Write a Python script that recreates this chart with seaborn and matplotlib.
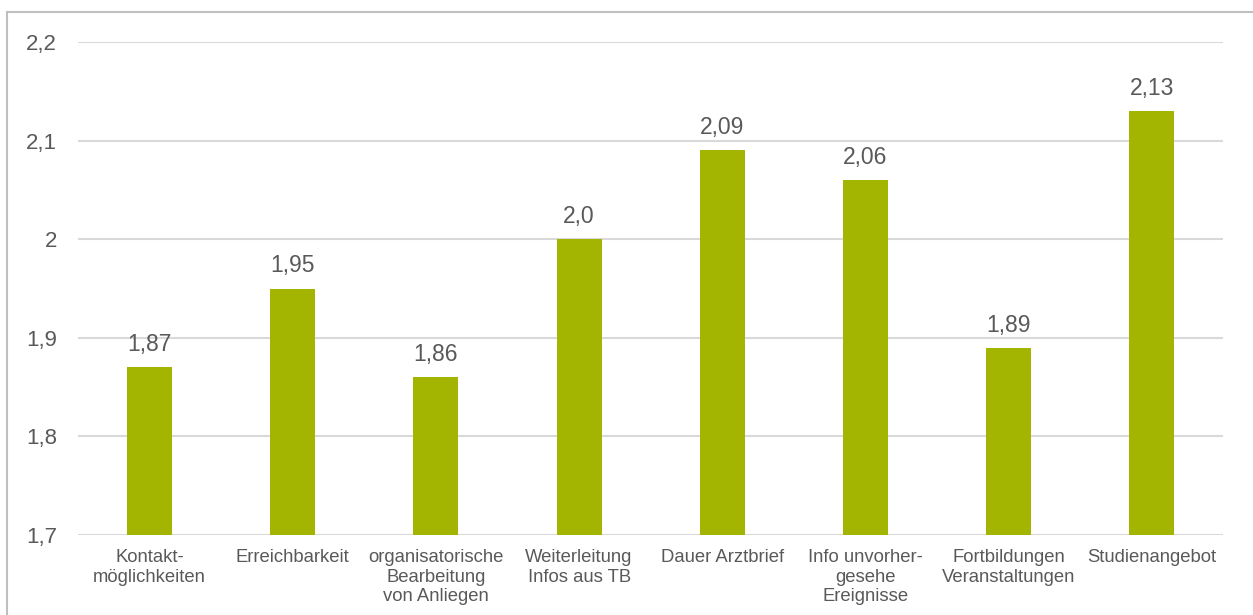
import matplotlib
matplotlib.use("Agg")
import matplotlib.pyplot as plt
from matplotlib.patches import Rectangle
import seaborn as sns
import pandas as pd

categories = [
    "Kontakt-\nmöglichkeiten",
    "Erreichbarkeit",
    "organisatorische\nBearbeitung\nvon Anliegen",
    "Weiterleitung\nInfos aus TB",
    "Dauer Arztbrief",
    "Info unvorher-\ngesehe\nEreignisse",
    "Fortbildungen\nVeranstaltungen",
    "Studienangebot",
]
values = [1.87, 1.95, 1.86, 2.00, 2.09, 2.06, 1.89, 2.13]
value_labels = ["1,87", "1,95", "1,86", "2,0", "2,09", "2,06", "1,89", "2,13"]
yticks = [1.7, 1.8, 1.9, 2.0, 2.1, 2.2]
ytick_labels = ["1,7", "1,8", "1,9", "2", "2,1", "2,2"]

sns.set_style("white")
plt.rcParams["font.family"] = ["Liberation Sans", "DejaVu Sans"]

text_color = "#595959"
bar_color = "#a3b500"
grid_color = "#d9d9d9"

df = pd.DataFrame({"Kategorie": categories, "Wert": values})

fig = plt.figure(figsize=(12.53, 6.15), dpi=100)
ax = fig.add_axes([0.0623, 0.13, 0.914, 0.8017])

sns.barplot(data=df, x="Kategorie", y="Wert", color=bar_color,
            width=0.315, saturation=1, linewidth=0, ax=ax)

ax.set_ylim(1.7, 2.2)
ax.set_yticks(yticks)
ax.set_yticklabels(ytick_labels, fontsize=16, color=text_color)
ax.tick_params(axis="y", length=0, pad=15)
ax.tick_params(axis="x", length=0, pad=10, labelcolor=text_color)
for lbl in ax.get_xticklabels():
    lbl.set_fontsize(13.3)
    lbl.set_linespacing(1.2)
ax.set_xlabel("")
ax.set_ylabel("")
ax.set_xlim(-0.5, len(categories) - 0.5)

ax.yaxis.grid(True, color=grid_color, linewidth=1.5)
ax.set_axisbelow(True)
for s in ax.spines.values():
    s.set_visible(False)

ax.bar_label(ax.containers[0], labels=value_labels, padding=8,
             fontsize=16.5, color=text_color)

# outer frame of the chart area
fig.patches.append(Rectangle((7 / 1253, -0.1), 1.2, 1.1 - 12 / 615,
                             transform=fig.transFigure, fill=False,
                             edgecolor="#bfbfbf", linewidth=1.5))

fig.savefig("out.png", dpi=100)
